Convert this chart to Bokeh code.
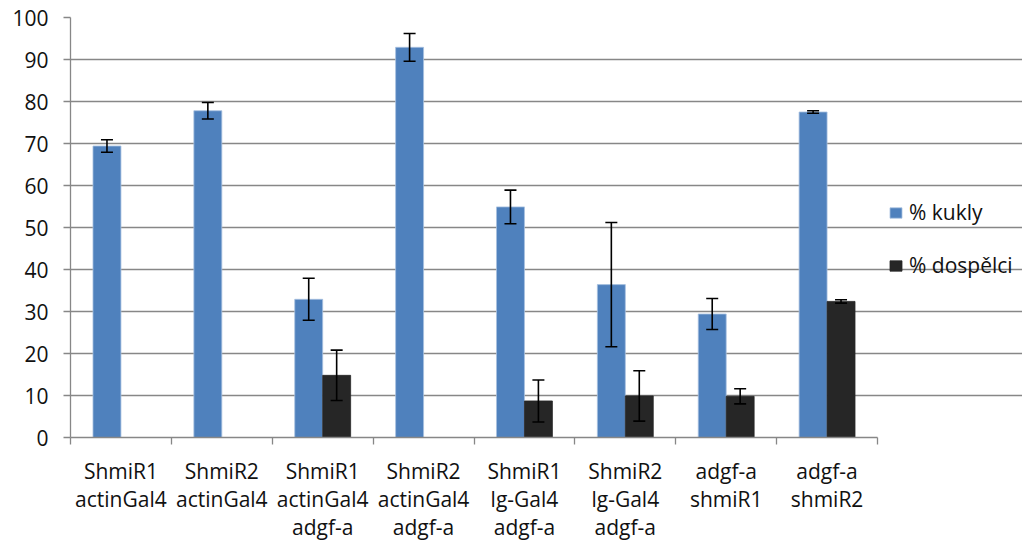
from bokeh.plotting import figure
from bokeh.models import ColumnDataSource, Whisker, TeeHead, FixedTicker, Legend, LegendItem, Range1d
from bokeh.embed import file_html
from bokeh.resources import INLINE

groups = ["ShmiR1\nactinGal4", "ShmiR2\nactinGal4", "ShmiR1\nactinGal4\nadgf-a",
          "ShmiR2\nactinGal4\nadgf-a", "ShmiR1\nlg-Gal4\nadgf-a", "ShmiR2\nlg-Gal4\nadgf-a",
          "adgf-a\nshmiR1", "adgf-a\nshmiR2"]
kukly = [69.4, 77.8, 32.9, 92.9, 54.9, 36.4, 29.4, 77.5]
kukly_err = [1.5, 1.95, 5.0, 3.3, 4.0, 14.8, 3.7, 0.3]
dospelci = [None, None, 14.8, None, 8.7, 9.9, 9.8, 32.4]
dospelci_err = [None, None, 6.0, None, 5.0, 6.0, 1.8, 0.4]
y_ticks = list(range(0, 101, 10))

BLUE = "#4F81BD"
DARK = "#262626"
GRID = "#878787"
TXT = "#111111"
FONT = "Open Sans"
W = 0.277

n = len(groups)
centers = [i + 0.5 for i in range(n)]

# frame: left edge at 70 px, group width ~101 px, frame extended to the right to host the legend
LEFT = 70
GROUP_PX = 807 / n
frame_w = 1022 - LEFT
x_end = frame_w / GROUP_PX

src_k = ColumnDataSource(dict(x=[c - W / 2 for c in centers], top=kukly,
                              upper=[v + e for v, e in zip(kukly, kukly_err)],
                              lower=[v - e for v, e in zip(kukly, kukly_err)]))
idx = [i for i, v in enumerate(dospelci) if v is not None]
src_d = ColumnDataSource(dict(x=[centers[i] + W / 2 for i in idx],
                              top=[dospelci[i] for i in idx],
                              upper=[dospelci[i] + dospelci_err[i] for i in idx],
                              lower=[dospelci[i] - dospelci_err[i] for i in idx]))

p = figure(width=1022, height=546, output_backend="svg", toolbar_location=None,
           x_range=Range1d(0, x_end), y_range=Range1d(0, 100),
           min_border_left=LEFT, min_border_right=0, min_border_top=17, min_border_bottom=109)
p.outline_line_color = None
p.background_fill_color = "white"
p.border_fill_color = "white"

p.xgrid.visible = False
p.ygrid.ticker = FixedTicker(ticks=y_ticks)
p.ygrid.bounds = (0, n)
p.ygrid.grid_line_color = GRID
p.ygrid.grid_line_width = 1.3

rk = p.vbar(x="x", top="top", width=W, bottom=0, source=src_k,
            fill_color=BLUE, line_color="#A7C0E0", line_width=0.8)
rd = p.vbar(x="x", top="top", width=W, bottom=0, source=src_d,
            fill_color=DARK, line_color=DARK, line_width=0.8)

for s in (src_k, src_d):
    wk = Whisker(base="x", upper="upper", lower="lower", source=s, level="overlay",
                 line_color="black", line_width=1.6,
                 upper_head=TeeHead(size=12, line_color="black", line_width=1.6),
                 lower_head=TeeHead(size=12, line_color="black", line_width=1.6))
    p.add_layout(wk)

# y axis
ya = p.yaxis[0]
ya.ticker = FixedTicker(ticks=y_ticks)
ya.axis_line_color = GRID
ya.axis_line_width = 1.3
ya.major_tick_line_color = GRID
ya.major_tick_line_width = 1.3
ya.major_tick_in = 0
ya.major_tick_out = 7
ya.minor_tick_line_color = None
ya.major_label_text_font = FONT
ya.major_label_text_font_size = "21px"
ya.major_label_text_color = TXT
ya.major_label_standoff = 15

# x axis
xa = p.xaxis[0]
xa.bounds = (0, n)
xa.ticker = FixedTicker(ticks=centers, minor_ticks=list(range(n + 1)))
xa.major_label_overrides = {c: g for c, g in zip(centers, groups)}
xa.axis_line_color = GRID
xa.axis_line_width = 1.3
xa.major_tick_line_color = None
xa.minor_tick_line_color = GRID
xa.minor_tick_line_width = 1.3
xa.minor_tick_in = 0
xa.minor_tick_out = 7
xa.major_label_text_font = FONT
xa.major_label_text_font_size = "21px"
xa.major_label_text_color = TXT
xa.major_label_text_line_height = 1.0
xa.major_label_standoff = 12

legend = Legend(items=[LegendItem(label="% kukly", renderers=[rk]),
                       LegendItem(label="% dospělci", renderers=[rd])],
                location=(818, 158), orientation="vertical",
                glyph_width=15, glyph_height=13, label_standoff=6,
                label_text_font=FONT, label_text_font_size="21px",
                label_text_color=TXT, spacing=25, padding=10, margin=0,
                border_line_color=None, background_fill_alpha=0)
p.add_layout(legend)

open("out.html", "w").write(file_html(p, INLINE))
